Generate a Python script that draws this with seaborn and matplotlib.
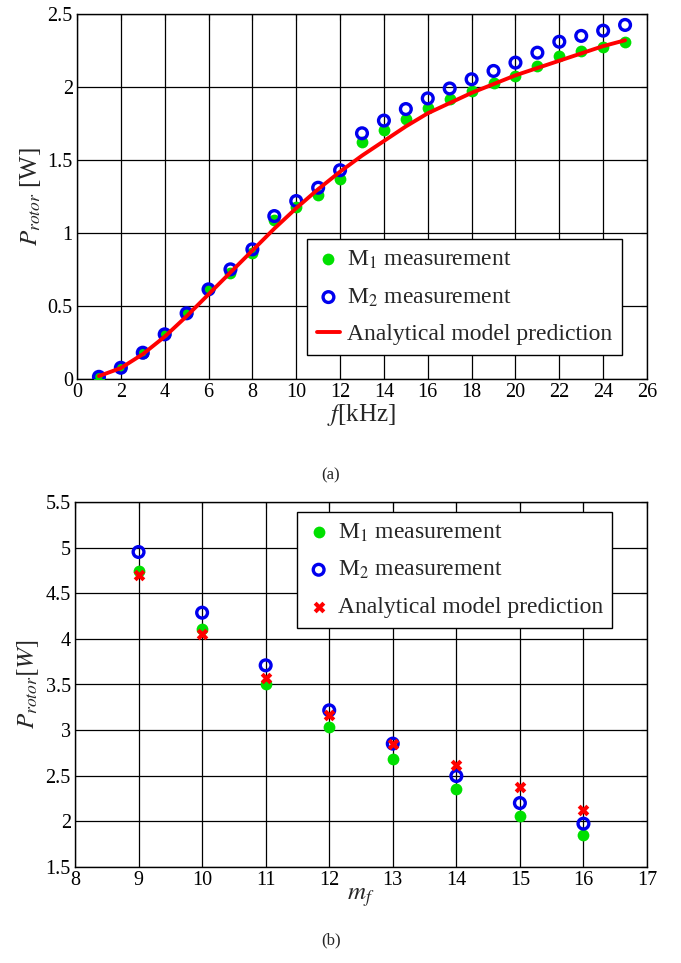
import numpy as np
import pandas as pd
import matplotlib
matplotlib.use("Agg")
import matplotlib.pyplot as plt
import seaborn as sns

# ---- data (a) ----
freq_khz = list(range(1, 26))
m1_a = [0.016, 0.08, 0.18, 0.306, 0.45, 0.614, 0.724, 0.861, 1.089, 1.18, 1.26, 1.37, 1.62,
        1.705, 1.78, 1.854, 1.918, 1.975, 2.025, 2.075, 2.146, 2.215, 2.247, 2.276, 2.306]
m2_a = [0.015, 0.077, 0.18, 0.306, 0.45, 0.614, 0.751, 0.888, 1.116, 1.219, 1.31, 1.43, 1.683,
        1.77, 1.849, 1.922, 1.99, 2.053, 2.11, 2.167, 2.235, 2.31, 2.35, 2.386, 2.425]
model_a = [0.02, 0.075, 0.17, 0.29, 0.43, 0.58, 0.73, 0.88, 1.03, 1.17, 1.30, 1.42, 1.53,
           1.63, 1.73, 1.82, 1.89, 1.96, 2.02, 2.08, 2.13, 2.18, 2.23, 2.28, 2.32]

# ---- data (b) ----
mf = [9, 10, 11, 12, 13, 14, 15, 16]
m1_b = [4.744, 4.105, 3.509, 3.034, 2.687, 2.358, 2.059, 1.847]
m2_b = [4.952, 4.287, 3.71, 3.217, 2.852, 2.497, 2.201, 1.975]
model_b = [4.696, 4.05, 3.575, 3.169, 2.845, 2.614, 2.377, 2.128]

sns.set_theme(style="white")
plt.rcParams['font.family'] = ['Liberation Serif', 'DejaVu Serif']
plt.rcParams['mathtext.fontset'] = 'stix'
plt.rcParams['xtick.direction'] = 'in'
plt.rcParams['ytick.direction'] = 'in'

W, H = 681, 963
fig = plt.figure(figsize=(W / 100, H / 100), dpi=100)

def axrect(l, t, r, b):
    return [l / W, 1 - b / H, (r - l) / W, (b - t) / H]

GREEN = '#00e000'
BLUE = '#0000ee'
RED = '#ff0000'

def style_ax(ax):
    for s in ax.spines.values():
        s.set_color('black')
        s.set_linewidth(1.0)
    ax.grid(True, color='black', linewidth=0.9)
    ax.set_axisbelow(True)
    ax.tick_params(axis='both', labelsize=14.5, colors='black', top=True, right=True,
                   length=4, width=0.8, pad=3)

LEG_FS = 17

# ---- (a) ----
ax1 = fig.add_axes(axrect(77, 14, 647, 379))
dfa = pd.DataFrame({'f': freq_khz, 'm1': m1_a, 'm2': m2_a, 'model': model_a})
sns.scatterplot(data=dfa, x='f', y='m1', ax=ax1, color=GREEN, s=72, linewidth=0,
                label='M$_1$ measurement', zorder=3)
sns.scatterplot(data=dfa, x='f', y='m2', ax=ax1, facecolor='none', edgecolor=BLUE,
                s=60, linewidth=2.4, label='M$_2$ measurement', zorder=4)
sns.lineplot(data=dfa, x='f', y='model', ax=ax1, color=RED, linewidth=2.8,
             label='Analytical model prediction', zorder=5)
ax1.set_xlim(0, 26)
ax1.set_ylim(0, 2.5)
ax1.set_xticks(range(0, 27, 2))
ax1.set_yticks([0, 0.5, 1, 1.5, 2, 2.5])
ax1.set_yticklabels(['0', '0.5', '1', '1.5', '2', '2.5'])
style_ax(ax1)
ax1.set_xlabel('$f$[kHz]', fontsize=18, labelpad=0)
ax1.set_ylabel('$P_{rotor}$ [W]', fontsize=18, labelpad=3)
leg1 = ax1.legend(loc='lower right', bbox_to_anchor=(0.956, 0.066), fontsize=LEG_FS,
                  frameon=True, fancybox=False, edgecolor='black', framealpha=1,
                  handlelength=1.0, handletextpad=0.3, borderpad=0.4, labelspacing=0.65,
                  borderaxespad=0)
leg1.get_frame().set_linewidth(1.0)
fig.text(331 / W, 1 - 475 / H, '(a)', ha='center', va='center', fontsize=12)

# ---- (b) ----
ax2 = fig.add_axes(axrect(75, 502, 647, 867))
dfb = pd.DataFrame({'mf': mf, 'm1': m1_b, 'm2': m2_b, 'model': model_b})
sns.scatterplot(data=dfb, x='mf', y='m1', ax=ax2, color=GREEN, s=72, linewidth=0,
                label='M$_1$ measurement', zorder=3)
sns.scatterplot(data=dfb, x='mf', y='m2', ax=ax2, facecolor='none', edgecolor=BLUE,
                s=60, linewidth=2.4, label='M$_2$ measurement', zorder=4)
sns.scatterplot(data=dfb, x='mf', y='model', ax=ax2, color=RED, marker='X', s=70,
                linewidth=0, label='Analytical model prediction', zorder=5)
ax2.set_xlim(8, 17)
ax2.set_ylim(1.5, 5.5)
ax2.set_xticks(range(8, 18))
ax2.set_yticks([1.5, 2, 2.5, 3, 3.5, 4, 4.5, 5, 5.5])
ax2.set_yticklabels(['1.5', '2', '2.5', '3', '3.5', '4', '4.5', '5', '5.5'])
style_ax(ax2)
ax2.set_xlabel('$m_f$', fontsize=18, labelpad=-3)
ax2.set_ylabel('$P_{rotor}[W]$', fontsize=18, labelpad=3)
leg2 = ax2.legend(loc='upper right', bbox_to_anchor=(0.939, 0.973), fontsize=LEG_FS,
                  frameon=True, fancybox=False, edgecolor='black', framealpha=1,
                  handlelength=1.0, handletextpad=0.3, borderpad=0.4, labelspacing=0.65,
                  borderaxespad=0)
leg2.get_frame().set_linewidth(1.0)
fig.text(331 / W, 1 - 940 / H, '(b)', ha='center', va='center', fontsize=12)

fig.savefig('out.png', dpi=100)
